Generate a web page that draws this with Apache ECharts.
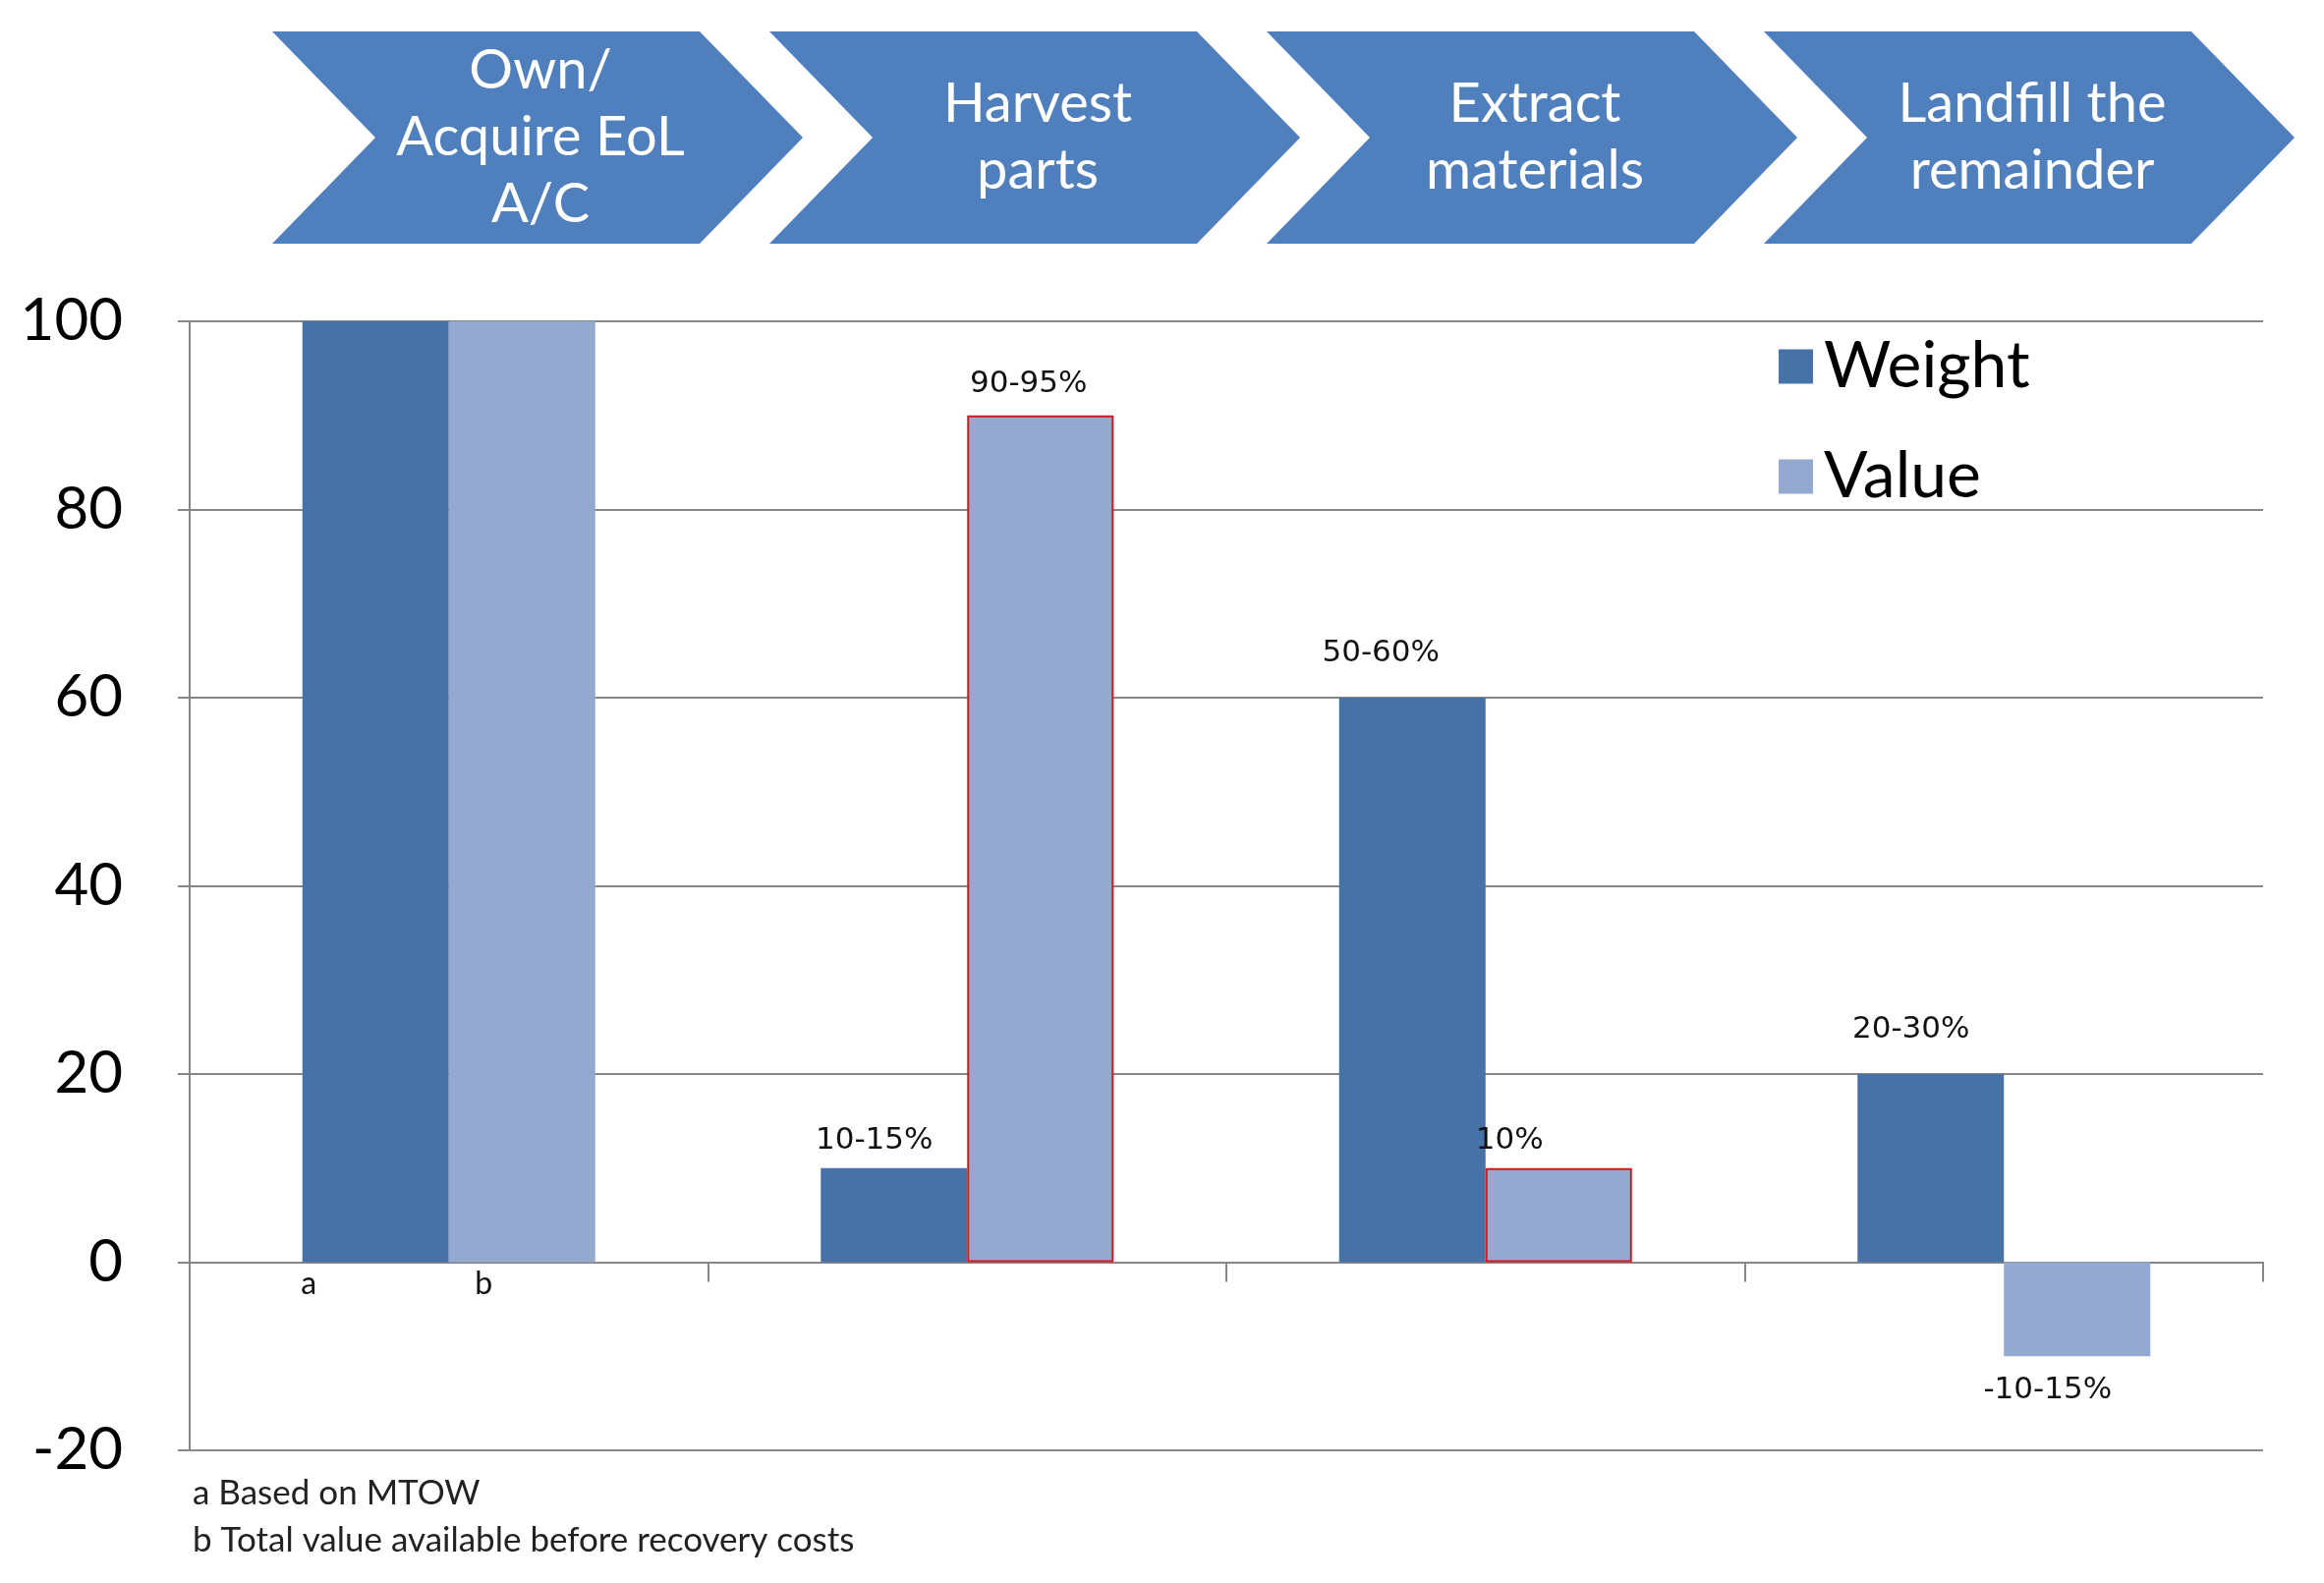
<!DOCTYPE html>
<html><head><meta charset="utf-8">
<script src="https://cdn.jsdelivr.net/npm/echarts@6/dist/echarts.min.js"></script>
<style>html,body{margin:0;padding:0;background:#fff}#c{width:2365px;height:1611px}</style>
</head><body><div id="c"></div>
<script>
// ---- data ----
const categories = ['Own/Acquire EoL A/C', 'Harvest parts', 'Extract materials', 'Landfill the remainder'];
const stageLabels = ['Own/\nAcquire EoL\nA/C', 'Harvest\nparts', 'Extract\nmaterials', 'Landfill the\nremainder'];
const weightValues = [100, 10, 60, 20];
const valueValues = [100, 90, 10, -10];
const weightLabels = ['a', '10-15%', '50-60%', '20-30%'];
const valueLabels = ['b', '90-95%', '10%', '-10-15%'];
const seriesNames = ['Weight', 'Value'];
const footnotes = ['a Based on MTOW', 'b Total value available before recovery costs'];
const yMin = -20, yMax = 100, yStep = 20;

// ---- styles ----
const WEIGHT_COLOR = '#4672a8';
const VALUE_COLOR = '#94a9d0';
const CHEVRON_COLOR = '#4f7fbc';
const weightLabelOffsetX = [-68, -20, -32, -20];
const weightLabelDist = [6, 12, 30, 30];
const valueLabelOffsetX = [-39, -12, -50, -30];
const valueLabelDist = [6, 16, 12, 19];
const valueBorder = [null, '#d9151f', '#d9151f', null];

function buildData(vals, labels, offX, dist, borders) {
  return vals.map((v, i) => {
    const first = i === 0;
    const item = {
      value: v,
      label: {
        show: true,
        formatter: labels[i],
        position: first ? 'bottom' : (v >= 0 ? 'top' : 'bottom'),
        distance: dist[i],
        offset: [offX[i], 0],
        color: '#111',
        fontFamily: first ? 'Lato' : 'DejaVu Sans',
        fontSize: first ? 32 : 31
      }
    };
    if (borders && borders[i]) {
      item.itemStyle = { borderColor: borders[i], borderWidth: 2 };
    }
    return item;
  });
}

// chevrons
const graphics = [];
const chevX0 = 277, chevStep = 506, chevTopW = 435, chevDepth = 105, chevTop = 32, chevBot = 248;
const chevMid = (chevTop + chevBot) / 2;
stageLabels.forEach((t, i) => {
  const x0 = chevX0 + i * chevStep;
  graphics.push({
    type: 'polygon',
    shape: { points: [[x0, chevTop], [x0 + chevTopW, chevTop], [x0 + chevTopW + chevDepth, chevMid], [x0 + chevTopW, chevBot], [x0, chevBot], [x0 + chevDepth, chevMid]] },
    style: { fill: CHEVRON_COLOR }
  });
  graphics.push({
    type: 'text',
    x: x0 + 273, y: chevMid,
    style: { text: t, fill: '#fff', font: '56px Lato', lineHeight: 68, textAlign: 'center', textVerticalAlign: 'middle', align: 'center', verticalAlign: 'middle' }
  });
});
footnotes.forEach((t, i) => {
  graphics.push({
    type: 'text', x: 196, y: 1520 + i * 48,
    style: { text: t, fill: '#222', font: '35px Lato', textVerticalAlign: 'middle', verticalAlign: 'middle' }
  });
});

const chart = echarts.init(document.getElementById('c'), null, { renderer: 'canvas' });
chart.setOption({
  animation: false,
  backgroundColor: '#fff',
  grid: { left: 193, right: 62, top: 327, bottom: 135, containLabel: false },
  legend: {
    data: seriesNames,
    orient: 'vertical',
    left: 1805, top: 335,
    icon: 'rect', itemWidth: 35, itemHeight: 35, itemGap: 46,
    textStyle: { fontFamily: 'Lato', fontSize: 66, color: '#000', lineHeight: 66, padding: [0, 0, 0, 6] }
  },
  xAxis: {
    type: 'category',
    data: categories,
    axisLine: { onZero: true, lineStyle: { color: '#868686', width: 2 } },
    axisTick: { show: true, length: 20, alignWithLabel: false, lineStyle: { color: '#868686', width: 2 } },
    axisLabel: { show: false },
    splitLine: { show: false }
  },
  yAxis: {
    type: 'value', min: yMin, max: yMax, interval: yStep,
    axisLine: { show: true, lineStyle: { color: '#868686', width: 2 } },
    axisTick: { show: true, length: 12, lineStyle: { color: '#868686', width: 2 } },
    axisLabel: { fontFamily: 'Lato', fontSize: 60, color: '#000', margin: 68 },
    splitLine: { show: true, lineStyle: { color: '#868686', width: 2 } }
  },
  series: [
    {
      name: seriesNames[0], type: 'bar', barWidth: 149, barGap: '0%',
      itemStyle: { color: WEIGHT_COLOR },
      data: buildData(weightValues, weightLabels, weightLabelOffsetX, weightLabelDist, null)
    },
    {
      name: seriesNames[1], type: 'bar', barWidth: 149, barGap: '0%',
      itemStyle: { color: VALUE_COLOR },
      data: buildData(valueValues, valueLabels, valueLabelOffsetX, valueLabelDist, valueBorder)
    }
  ],
  graphic: graphics
});
</script>
</body></html>
